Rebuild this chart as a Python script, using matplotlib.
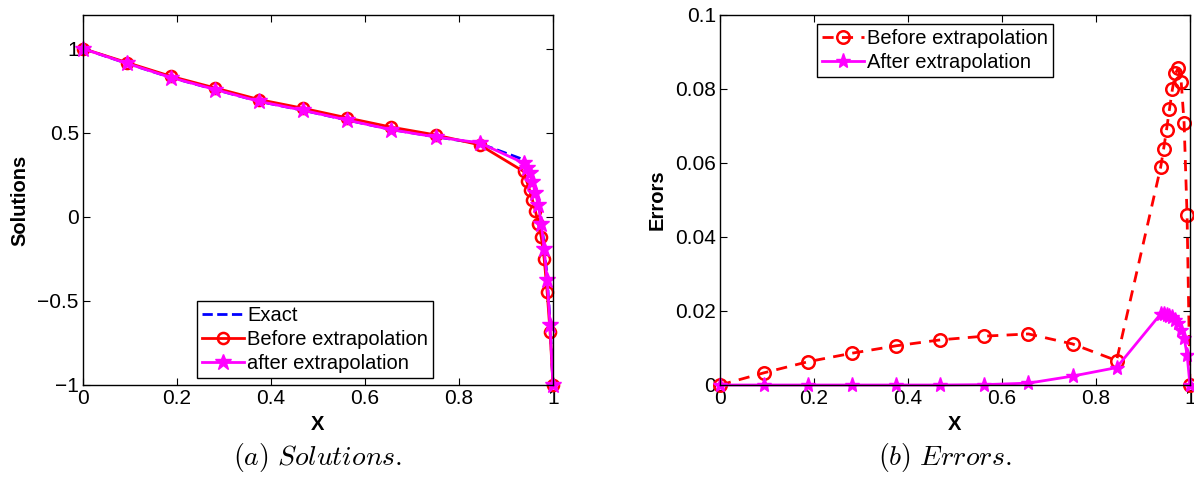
import numpy as np
import matplotlib as mpl
import matplotlib.pyplot as plt

mpl.rcParams['font.family'] = ['Liberation Sans', 'DejaVu Sans']
mpl.rcParams['mathtext.fontset'] = 'cm'

# mesh points (coarse part then refined part near x = 1)
xs = [0.0, 0.09375, 0.1875, 0.28125, 0.375, 0.46875, 0.5625, 0.65625, 0.75, 0.84375,
      0.9375, 0.94375, 0.95, 0.95625, 0.9625, 0.96875, 0.975, 0.98125, 0.9875, 0.99375, 1.0]

# (a) solutions
u_exact = [1.0, 0.912, 0.828, 0.757, 0.686, 0.633, 0.575, 0.519, 0.476, 0.436,
           0.34, 0.31, 0.28, 0.23, 0.16, 0.09, -0.02, -0.17, -0.36, -0.63, -1.0]
u_before = [1.0, 0.917, 0.835, 0.766, 0.697, 0.645, 0.588, 0.533, 0.487, 0.428,
            0.27, 0.215, 0.16, 0.10, 0.035, -0.04, -0.12, -0.25, -0.445, -0.683, -1.0]
u_after = [1.0, 0.912, 0.828, 0.757, 0.686, 0.633, 0.575, 0.518, 0.475, 0.44,
           0.32, 0.29, 0.26, 0.21, 0.14, 0.07, -0.04, -0.19, -0.375, -0.643, -1.0]

# (b) errors
err_before = [0.0, 0.0033, 0.0063, 0.0086, 0.0106, 0.0122, 0.0132, 0.0138, 0.0111, 0.0066,
              0.0588, 0.0637, 0.0689, 0.0745, 0.0799, 0.0842, 0.0856, 0.0820, 0.0707, 0.0459, 0.0]
err_after = [0.0, 0.0, 0.0, 0.0, 0.0, 0.0, 0.0001, 0.0005, 0.0024, 0.0047,
             0.0192, 0.0191, 0.0189, 0.0187, 0.0183, 0.0177, 0.0168, 0.0150, 0.0128, 0.0082, 0.0]

xticks = [0, 0.2, 0.4, 0.6, 0.8, 1]
xticklabels = ['0', '0.2', '0.4', '0.6', '0.8', '1']
yticks_a = [-1, -0.5, 0, 0.5, 1]
yticklabels_a = ['\u22121', '\u22120.5', '0', '0.5', '1']
yticks_b = [0, 0.02, 0.04, 0.06, 0.08, 0.1]
yticklabels_b = ['0', '0.02', '0.04', '0.06', '0.08', '0.1']

fig = plt.figure(figsize=(11.94, 5), dpi=100)
ax1 = fig.add_axes([83/1194, 115/500, 470/1194, 370/500])
ax2 = fig.add_axes([720/1194, 115/500, 470/1194, 370/500])

def style(ax):
    ax.tick_params(direction='in', top=True, right=True, length=5, width=0.8,
                   labelsize=15, pad=3)
    for s in ax.spines.values():
        s.set_linewidth(1.0)
    ax.set_xlim(0, 1)
    ax.set_xticks(xticks)
    ax.set_xticklabels(xticklabels)
    ax.set_xlabel('X', fontsize=14.5, fontweight='bold', labelpad=5)

leg_kw = dict(fontsize=14.5, frameon=True, fancybox=False, edgecolor='black',
              framealpha=1, handlelength=2.1, handletextpad=0.15, labelspacing=0.25,
              borderpad=0.25, borderaxespad=0)

ax1.plot(xs, u_exact, '--', color='#0000ff', lw=2, label='Exact', clip_on=False)
ax1.plot(xs, u_before, '-', color='#ff0000', lw=2, marker='o', ms=8, mfc='none',
         mew=1.8, label='Before extrapolation', clip_on=False)
ax1.plot(xs, u_after, '-', color='#ff00ff', lw=2, marker='*', ms=12,
         label='after extrapolation', clip_on=False)
style(ax1)
ax1.set_ylim(-1, 1.2)
ax1.set_yticks(yticks_a)
ax1.set_yticklabels(yticklabels_a)
ax1.set_ylabel('Solutions', fontsize=14.5, fontweight='bold', labelpad=6)
leg1 = ax1.legend(loc='upper left', bbox_to_anchor=(0.2426, 0.227), **leg_kw)
leg1.get_frame().set_linewidth(1.0)

ax2.plot(xs, err_before, '--', color='#ff0000', lw=2, marker='o', ms=9, mfc='none',
         mew=1.8, dashes=(4, 3), label='Before extrapolation', clip_on=False)
ax2.plot(xs, err_after, '-', color='#ff00ff', lw=2, marker='*', ms=11,
         label='After extrapolation', clip_on=False)
style(ax2)
ax2.set_ylim(0, 0.1)
ax2.set_yticks(yticks_b)
ax2.set_yticklabels(yticklabels_b)
ax2.set_ylabel('Errors', fontsize=14.5, fontweight='bold', labelpad=6)
leg2 = ax2.legend(loc='upper left', bbox_to_anchor=(0.206, 0.976), **leg_kw)
leg2.get_frame().set_linewidth(1.0)

fig.text(318/1194, 1 - 458/500, r'$\mathit{(a)\ Solutions.}$', fontsize=20,
         ha='center', va='center')
fig.text(945/1194, 1 - 458/500, r'$\mathit{(b)\ Errors.}$', fontsize=20,
         ha='center', va='center')

fig.savefig('out.png', dpi=100)
